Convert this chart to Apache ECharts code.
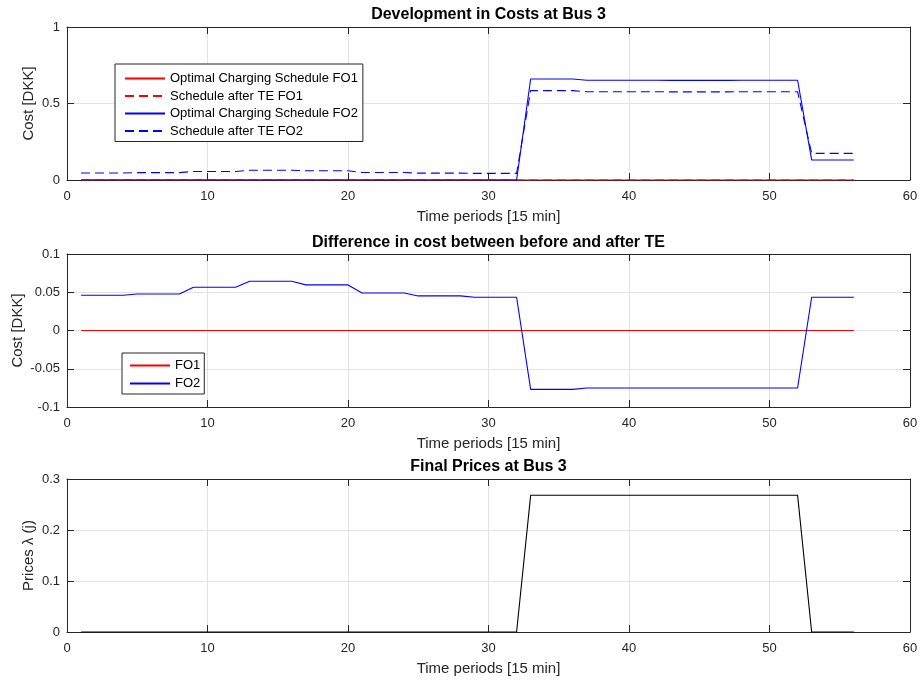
<!DOCTYPE html>
<html>
<head>
<meta charset="utf-8">
<script src="https://cdn.jsdelivr.net/npm/echarts@6/dist/echarts.min.js"></script>
<style>
html,body{margin:0;padding:0;background:#fff;}
#chart{width:920px;height:682px;}
</style>
</head>
<body>
<div id="chart"></div>
<script>
// ---- data ----
var periods = [1,2,3,4,5,6,7,8,9,10,11,12,13,14,15,16,17,18,19,20,21,22,23,24,25,26,27,28,29,30,31,32,33,34,35,36,37,38,39,40,41,42,43,44,45,46,47,48,49,50,51,52,53,54,55,56];
var fo1Optimal = [0,0,0,0,0,0,0,0,0,0,0,0,0,0,0,0,0,0,0,0,0,0,0,0,0,0,0,0,0,0,0,0,0,0,0,0,0,0,0,0,0,0,0,0,0,0,0,0,0,0,0,0,0,0,0,0];
var fo1AfterTE = [0,0,0,0,0,0,0,0,0,0,0,0,0,0,0,0,0,0,0,0,0,0,0,0,0,0,0,0,0,0,0,0,0,0,0,0,0,0,0,0,0,0,0,0,0,0,0,0,0,0,0,0,0,0,0,0];
var fo2Optimal = [0,0,0,0,0,0,0,0,0,0,0,0,0,0,0,0,0,0,0,0,0,0,0,0,0,0,0,0,0,0,0,0,
  0.660,0.660,0.660,0.660,
  0.652,0.652,0.652,0.652,0.652,0.652,0.651,0.651,0.651,0.651,0.651,0.652,0.652,0.652,0.652,0.652,
  0.131,0.131,0.131,0.131];
var fo2AfterTE = [0.046,0.046,0.046,0.046,0.048,0.048,0.048,0.048,0.056,0.056,0.056,0.056,0.064,0.064,0.064,0.064,
  0.060,0.060,0.060,0.060,0.049,0.049,0.049,0.049,0.045,0.045,0.045,0.045,0.043,0.043,0.043,0.043,
  0.584,0.584,0.584,0.584,
  0.577,0.577,0.577,0.577,0.577,0.577,0.576,0.576,0.576,0.576,0.576,0.577,0.577,0.577,0.577,0.577,
  0.174,0.174,0.174,0.174];
var diffFO1 = [0,0,0,0,0,0,0,0,0,0,0,0,0,0,0,0,0,0,0,0,0,0,0,0,0,0,0,0,0,0,0,0,0,0,0,0,0,0,0,0,0,0,0,0,0,0,0,0,0,0,0,0,0,0,0,0];
var diffFO2 = [0.0461,0.0461,0.0461,0.0461,0.0478,0.0478,0.0478,0.0478,0.0565,0.0565,0.0565,0.0565,0.0643,0.0643,0.0643,0.0643,
  0.0596,0.0596,0.0596,0.0596,0.0491,0.0491,0.0491,0.0491,0.0452,0.0452,0.0452,0.0452,0.0435,0.0435,0.0435,0.0435,
  -0.0770,-0.0770,-0.0770,-0.0770,
  -0.0752,-0.0752,-0.0752,-0.0752,-0.0752,-0.0752,-0.0752,-0.0752,-0.0752,-0.0752,-0.0752,-0.0752,-0.0752,-0.0752,-0.0752,-0.0752,
  0.0435,0.0435,0.0435,0.0435];
var prices = [0,0,0,0,0,0,0,0,0,0,0,0,0,0,0,0,0,0,0,0,0,0,0,0,0,0,0,0,0,0,0,0,
  0.268,0.268,0.268,0.268,0.268,0.268,0.268,0.268,0.268,0.268,0.268,0.268,0.268,0.268,0.268,0.268,0.268,0.268,0.268,0.268,
  0,0,0,0];
var xTicks = {min:0, max:60, interval:10};
var titles = ['Development in Costs at Bus 3','Difference in cost between before and after TE','Final Prices at Bus 3'];
var xName = 'Time periods [15 min]';
var yNames = ['Cost [DKK]','Cost [DKK]','Prices \u03bb (j)'];
var yRanges = [{min:0,max:1,interval:0.5},{min:-0.1,max:0.1,interval:0.05},{min:0,max:0.3,interval:0.1}];

// ---- layout ----
var FONT = '"Liberation Sans", Arial, Helvetica, sans-serif';
var AX = '#262626';
var GRIDC = '#e3e3e3';
var grids = [
  {left:67, width:843, top:27, height:153, containLabel:false, outerBoundsMode:'none'},
  {left:67, width:843, top:254, height:153, containLabel:false, outerBoundsMode:'none'},
  {left:67, width:843, top:479, height:153, containLabel:false, outerBoundsMode:'none'}
];
var yNameGaps = [31, 42, 31];
var titleOffsets = [20, 19, 20];

function pairs(vals){ return periods.map(function(p,i){ return [p, vals[i]]; }); }

var xAxes = [], yAxes = [], titleArr = [];
grids.forEach(function(g, i){
  titleArr.push({
    text: titles[i], left: g.left + g.width/2, top: g.top - titleOffsets[i], textAlign: 'center', padding: 0,
    textStyle: {fontFamily: FONT, fontSize: 16, fontWeight: 'bold', color: '#000'}
  });
  xAxes.push({
    gridIndex: i, type: 'value', min: xTicks.min, max: xTicks.max, interval: xTicks.interval,
    position: 'bottom', name: xName, nameLocation: 'middle', nameGap: 29, nameMoveOverlap: false,
    nameTextStyle: {fontFamily: FONT, fontSize: 15, color: AX},
    axisLine: {show: true, onZero: false, lineStyle: {color: AX, width: 1}},
    axisTick: {show: true, inside: true, length: 7, lineStyle: {color: AX}},
    axisLabel: {fontFamily: FONT, fontSize: 13, color: AX, margin: 10},
    splitLine: {show: true, lineStyle: {color: GRIDC, width: 1}}
  });
  xAxes.push({
    gridIndex: i, type: 'value', min: xTicks.min, max: xTicks.max, interval: xTicks.interval,
    position: 'top',
    axisLine: {show: true, onZero: false, lineStyle: {color: AX, width: 1}},
    axisTick: {show: true, inside: true, length: 7, lineStyle: {color: AX}},
    axisLabel: {show: false}, splitLine: {show: false}
  });
  yAxes.push({
    gridIndex: i, type: 'value', min: yRanges[i].min, max: yRanges[i].max, interval: yRanges[i].interval,
    position: 'left', name: yNames[i], nameLocation: 'middle', nameGap: yNameGaps[i], nameMoveOverlap: false,
    nameTextStyle: {fontFamily: FONT, fontSize: 15, color: AX},
    axisLine: {show: true, onZero: false, lineStyle: {color: AX, width: 1}},
    axisTick: {show: true, inside: true, length: 7, lineStyle: {color: AX}},
    axisLabel: {fontFamily: FONT, fontSize: 13, color: AX, margin: 7},
    splitLine: {show: true, lineStyle: {color: GRIDC, width: 1}}
  });
  yAxes.push({
    gridIndex: i, type: 'value', min: yRanges[i].min, max: yRanges[i].max, interval: yRanges[i].interval,
    position: 'right',
    axisLine: {show: true, onZero: false, lineStyle: {color: AX, width: 1}},
    axisTick: {show: true, inside: true, length: 7, lineStyle: {color: AX}},
    axisLabel: {show: false}, splitLine: {show: false}
  });
});

function line(name, vals, gi, color, dashed){
  return {
    name: name, type: 'line', xAxisIndex: gi*2, yAxisIndex: gi*2, data: pairs(vals),
    symbol: 'none', showSymbol: false, animation: false,
    lineStyle: {color: color, width: 1.1, type: dashed ? [9,5] : 'solid'},
    itemStyle: {color: color}
  };
}

var legendItemStyle = {opacity: 0, borderWidth: 0};
var option = {
  animation: false,
  backgroundColor: '#fff',
  title: titleArr,
  grid: grids,
  xAxis: xAxes,
  yAxis: yAxes,
  legend: [
    {
      data: ['Optimal Charging Schedule FO1','Schedule after TE FO1','Optimal Charging Schedule FO2','Schedule after TE FO2'],
      orient: 'vertical', left: 115, top: 64, itemWidth: 40, itemHeight: 12, itemGap: 4.5,
      itemStyle: legendItemStyle,
      padding: [8, 5, 4, 9], borderColor: '#262626', borderWidth: 1, backgroundColor: '#fff',
      textStyle: {fontFamily: FONT, fontSize: 13, color: '#000'}
    },
    {
      data: ['FO1','FO2'],
      orient: 'vertical', left: 122, top: 353, itemWidth: 40, itemHeight: 12, itemGap: 5,
      itemStyle: legendItemStyle,
      padding: [6, 4, 4, 7], borderColor: '#262626', borderWidth: 1, backgroundColor: '#fff',
      textStyle: {fontFamily: FONT, fontSize: 13, color: '#000'}
    }
  ],
  series: [
    line('Optimal Charging Schedule FO1', fo1Optimal, 0, '#ff0000', false),
    line('Schedule after TE FO1', fo1AfterTE, 0, '#ff0000', true),
    line('Optimal Charging Schedule FO2', fo2Optimal, 0, '#0000ff', false),
    line('Schedule after TE FO2', fo2AfterTE, 0, '#0000ff', true),
    line('FO1', diffFO1, 1, '#ff0000', false),
    line('FO2', diffFO2, 1, '#0000ff', false),
    line('Prices', prices, 2, '#000000', false)
  ]
};
var chart = echarts.init(document.getElementById('chart'), null, {renderer: 'canvas'});
chart.setOption(option);
</script>
</body>
</html>
